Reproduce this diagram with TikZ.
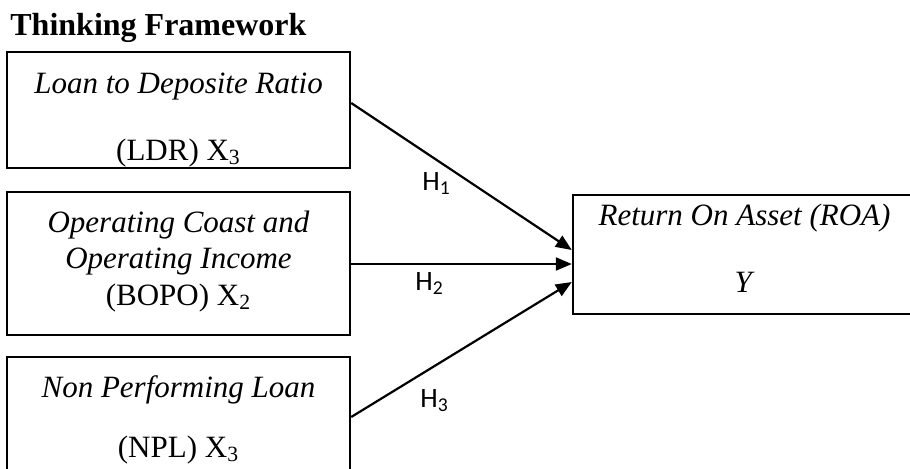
\documentclass[tikz,border=0pt]{standalone}
\usepackage{fontspec}
\setmainfont{Liberation Serif}
\newfontfamily\hypfont{Carlito}
\usetikzlibrary{arrows.meta}
\usetikzlibrary{positioning}
\tikzset{>=latex}
\tikzstyle{var} = [rectangle, draw=black, line width=1.2pt, minimum width=171.5pt, inner sep=0pt]
\tikzstyle{txt} = [anchor=base, inner sep=0pt, font=\fontsize{15.5}{18}\selectfont]
\tikzstyle{hyp} = [-{Triangle[length=8pt, width=6.5pt]}, line width=1.1pt, draw=black]
\tikzstyle{hlab} = [anchor=base west, inner sep=0pt, font=\hypfont\fontsize{14}{16}\selectfont]

\begin{document}
\begin{tikzpicture}[x=0.5pt, y=-0.5pt]
 \useasboundingbox (0, 0) rectangle (910, 468);
 \clip (0, 0) rectangle (910, 468);
 \node [anchor=base west, inner sep=0pt, font=\fontsize{16}{19}\selectfont\bfseries] (title) at (10, 35) {Thinking Framework};
 % independent variables
 \node [var, minimum height=58pt] (ldr) at (178.5, 110) {};
 \node [var, minimum height=71.5pt] (bopo) at (178.5, 263.5) {};
 \node [var, minimum height=58pt] (npl) at (178.5, 415) {};
 \node [txt] (ldr1) at (178.5, 93) {\textit{Loan to Deposite Ratio}};
 \node [txt] (ldr2) at (178.5, 160) {(LDR) X\textsubscript{3}};
 \node [txt] (bopo1) at (178.5, 232) {\textit{Operating Coast and}};
 \node [txt] (bopo2) at (178.5, 268) {\textit{Operating Income}};
 \node [txt] (bopo3) at (178.5, 305) {(BOPO) X\textsubscript{2}};
 \node [txt] (npl1) at (178.5, 397) {\textit{Non Performing Loan}};
 \node [txt] (npl2) at (178.5, 457) {(NPL) X\textsubscript{3}};
 % dependent variable
 \node [var, minimum height=59.5pt] (roa) at (744.5, 254.5) {};
 \node [txt] (roa1) at (744.5, 225) {\textit{Return On Asset (ROA)}};
 \node [txt] (roa2) at (744.5, 292) {\textit{Y}};
 % hypotheses
 \draw [hyp] ([yshift=3.5pt]ldr.east) to ([yshift=2.25pt]roa.west);
 \draw [hyp] ([yshift=-0.25pt]bopo.east) to ([yshift=-4.75pt]roa.west);
 \draw [hyp] ([yshift=-1pt]npl.east) to ([yshift=-13.75pt]roa.west);
 \node [hlab] (h1) at (422, 190) {H\textsubscript{1}};
 \node [hlab] (h2) at (415, 290) {H\textsubscript{2}};
 \node [hlab] (h3) at (420, 407) {H\textsubscript{3}};
\end{tikzpicture}
\end{document}
